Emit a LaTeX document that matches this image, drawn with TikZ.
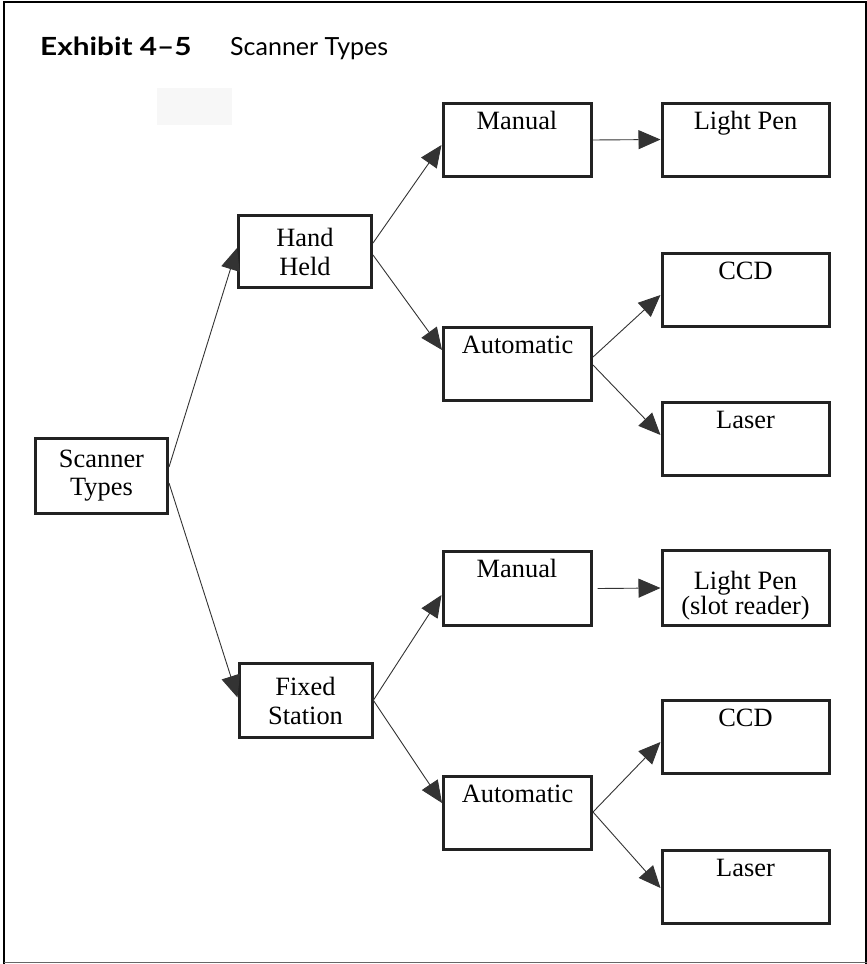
\documentclass[tikz,border=0pt]{standalone}
\usepackage{fontspec}
\setmainfont{Liberation Serif}
\newfontfamily\headfont{Lato}
\usetikzlibrary{arrows.meta,calc}

\definecolor{boxline}{HTML}{222222}
\definecolor{wire}{HTML}{333333}
\definecolor{framegray}{HTML}{666666}

\begin{document}
\begin{tikzpicture}[x=1pt,y=-1pt,
  every node/.style={inner sep=0pt},
  labelfont/.style={font=\fontsize{26.4}{29}\selectfont},
  boxbase/.style={draw=boxline, line width=3pt, labelfont, align=center},
  leftbox/.style={boxbase, minimum width=133pt, minimum height=74pt},
  midbox/.style={boxbase, minimum width=148pt, minimum height=73pt},
  rightbox/.style={boxbase, minimum width=167pt, minimum height=73pt},
  toptext/.style={labelfont, anchor=base},
  conn/.style={draw=wire, line width=0.9pt, -{Triangle[length=22pt,width=19pt]}},
  head/.style={anchor=base west, font=\headfont\fontsize{25}{30}\selectfont}
]
\useasboundingbox (0,0) rectangle (867,964);

% outer frame
\draw[black, line width=2.6pt] (4,964) -- (4,2) -- (866,2) -- (866,964);
\draw[framegray, line width=1.6pt] (4,962.5) -- (867,962.5);

% heading: the bold run is set a little wide
\node[head, font=\headfont\bfseries\fontsize{25}{30}\selectfont] (exh) at (40,55) {\scalebox{1.19}[1]{Exhibit 4–5}};
\node[head] (ttl) at (230,55) {Scanner Types};

% faint patch
\fill[black!3] (157,88) rectangle (232,125);

% left column
\node[leftbox, font=\fontsize{26.4}{28}\selectfont, minimum width=132pt, minimum height=75pt] (st) at (101.5,476) {Scanner\\Types};
\node[leftbox, minimum height=72pt] (hh) at (305,251.5) {Hand\\Held};
\node[leftbox] (fs) at (305.5,700.5) {Fixed\\Station};

% middle column
\node[midbox] (m1) at (517,140) {};
\node[midbox] (a1) at (517.5,363.5) {};
\node[midbox, minimum height=74pt] (m2) at (517,588.5) {};
\node[midbox] (a2) at (517.5,813) {};

% right column
\node[rightbox] (lp1) at (745.5,139.5) {};
\node[rightbox] (ccd1) at (745.5,289.5) {};
\node[rightbox] (las1) at (745.5,438.5) {};
\node[rightbox, minimum height=75pt] (lp2) at (745.5,588) {};
\node[rightbox] (ccd2) at (745.5,737) {};
\node[rightbox] (las2) at (745.5,887) {};

% labels set near the top edge
\node[toptext] (m1t) at ($(m1.north)+(0,27.5)$) {Manual};
\node[toptext] (a1t) at ($(a1.north)+(0,27.5)$) {Automatic};
\node[toptext] (m2t) at ($(m2.north)+(0,27.5)$) {Manual};
\node[toptext] (a2t) at ($(a2.north)+(0,27.5)$) {Automatic};
\node[toptext] (lp1t) at ($(lp1.north)+(0,27.5)$) {Light Pen};
\node[toptext] (ccd1t) at ($(ccd1.north)+(0,27.5)$) {CCD};
\node[toptext] (las1t) at ($(las1.north)+(0,27.5)$) {Laser};
\node[toptext] (ccd2t) at ($(ccd2.north)+(0,27.5)$) {CCD};
\node[toptext] (las2t) at ($(las2.north)+(0,27.5)$) {Laser};
\node[labelfont, align=center, font=\fontsize{26.4}{21.5}\selectfont] (lp2t) at ($(lp2.center)+(0,8)$) {Light Pen\\(slot reader)};

% connectors
\draw[conn] ($(st.east)+(0,-9)$) -- ($(hh.west)+(0,-3.5)$);
\draw[conn] ($(st.east)+(0,7)$) -- ($(fs.west)+(0,-3)$);
\draw[conn] ($(hh.east)+(0,-8.5)$) -- ($(m1.west)+(0,5)$);
\draw[conn] ($(hh.east)+(0,3.5)$) -- ($(a1.west)+(0,-13.5)$);
\draw[conn] (m1.east) -- (lp1.west);
\draw[conn] ($(a1.east)+(0,-6.5)$) -- ($(ccd1.west)+(0,5.5)$);
\draw[conn] ($(a1.east)+(0,1.5)$) -- ($(las1.west)+(0,-3.5)$);
\draw[conn] ($(fs.east)+(0,-0.5)$) -- ($(m2.west)+(0,6.5)$);
\draw[conn] (fs.east) -- ($(a2.west)+(0,-10)$);
\draw[conn] ($(m2.east)+(5,0)$) -- (lp2.west);
\draw[conn] ($(a2.east)+(0,-1)$) -- ($(ccd2.west)+(0,5)$);
\draw[conn] ($(a2.east)+(0,-1)$) -- ($(las2.west)+(0,1)$);
\end{tikzpicture}
\end{document}
